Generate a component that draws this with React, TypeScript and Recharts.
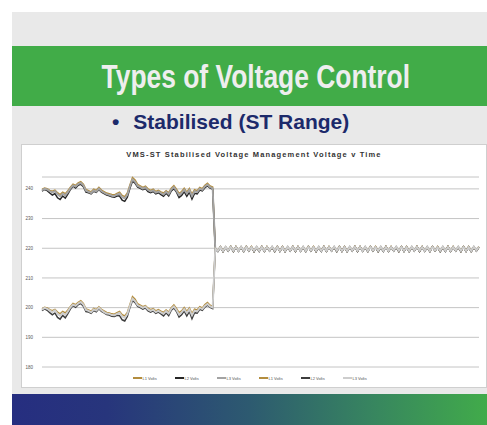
import { LineChart, Line, XAxis, YAxis, CartesianGrid, Legend } from "recharts";

// Pre-step readings (high group ~240 V, low group ~200 V)
const HIGH_L1 = [239.8,240.3,240.1,239.5,239.2,239.6,238.7,238.1,238.9,238.4,239.4,240.6,241.6,241.2,242,242.4,241.6,239.8,239.4,239,239.9,239.5,240.5,239.6,239.1,238.6,238.4,238.1,238,238.5,238.9,237.8,237.4,238.6,241.3,243.8,243,241.5,241,240.5,240.9,240,239.5,239.9,239.1,239.5,239,238.6,239.4,238.7,240.2,241.1,239.9,238.5,239.1,240.2,238.9,240.1,238.2,239.7,239.4,240.5,240.1,241.2,241.9,241,240.6];
const HIGH_L2 = [239.2,239.8,239.4,238.6,237.9,238.4,237,236.4,237.6,236.9,238.2,239.8,240.9,240.3,241.2,241.6,240.7,238.9,238.7,238.3,239.2,238.8,239.8,238.9,238.4,237.9,237.7,237.3,237.2,237.6,237.6,236.2,235.8,237.2,240.2,242.6,241.9,240.6,240.2,239.7,240.1,239.1,238.7,239.1,238.3,238.7,238.1,237.5,238.5,237.6,239.3,240.1,238.9,237.1,237.8,239.1,237.5,238.9,236.6,238.5,238.3,239.6,239.3,240.4,241,240.3,239.9];
const HIGH_L3 = [239.5,240,239.8,239.2,238.8,239.2,238.2,237.5,238.4,237.8,238.9,240.2,241.2,240.8,241.6,242,241.2,239.4,239,238.6,239.5,239.1,240.1,239.2,238.7,238.2,238,237.7,237.6,238.1,238.4,237.2,236.8,238,240.8,243.2,242.4,241,240.6,240.1,240.5,239.6,239.1,239.5,238.7,239.1,238.6,238.1,239,238.2,239.8,240.6,239.4,237.9,238.6,239.7,238.4,239.6,237.6,239.2,238.9,240.1,239.7,240.8,241.4,240.6,240.2];

const LOW_L1 = [199.6,200.1,199.9,199.3,199,199.4,198.5,197.9,198.7,198.2,199.2,200.4,201.4,201,201.8,202.3,201.4,199.6,199.2,198.8,199.7,199.3,200.3,199.4,198.9,198.4,198.2,197.9,197.8,198.3,198.7,197.6,197.2,198.4,201.1,203.7,202.8,201.3,200.8,200.3,200.7,199.8,199.3,199.7,198.9,199.3,198.8,198.4,199.2,198.5,200,200.9,199.7,198.3,198.9,200,198.7,199.9,198,199.5,199.2,200.3,199.9,201,201.7,200.8,200.4];
const LOW_L2 = [199,199.6,199.1,198.3,197.6,198.2,196.7,196.1,197.4,196.6,198,199.6,200.7,200.1,201,201.4,200.5,198.7,198.5,198.1,199,198.6,199.6,198.7,198.2,197.7,197.5,197.1,197,197.4,197.3,195.9,195.5,197,200,202.4,201.7,200.4,200,199.5,199.9,198.9,198.5,198.9,198.1,198.5,197.9,197.2,198.3,197.3,199.1,199.9,198.7,196.8,197.6,198.9,197.2,198.7,196.3,198.3,198.1,199.4,199.1,200.2,200.8,200.1,199.7];
const LOW_L3 = [199.3,199.9,199.6,199,198.5,199.1,197.9,197.3,198.2,197.5,198.7,200.1,201,200.6,201.4,201.9,201,199.2,198.9,198.4,199.4,199,199.9,199.1,198.5,198,197.9,197.5,197.4,197.9,198.2,197,196.6,197.8,200.6,203,202.2,200.8,200.4,199.9,200.3,199.4,198.9,199.3,198.5,198.9,198.4,197.9,198.8,198,199.6,200.4,199.2,197.7,198.4,199.5,198.2,199.4,197.4,199,198.7,199.9,199.5,200.6,201.2,200.4,200];

// Stabilised output after the unit kicks in (~220 V)
const STAB_L1 = [
  219.9,219.1,220.5,219.0,220.4,219.2,220.6,219.0,220.5,219.1,
  220.4,219.0,220.6,219.2,220.5,219.0,220.4,219.1,220.6,219.0,
  220.5,219.2,220.4,219.0,220.6,219.1,220.5,219.0,220.4,219.2,
  220.6,219.0,220.5,219.1,220.4,219.0,220.6,219.2,220.5,219.0,
  220.4,219.1,220.6,219.0,220.5,219.2,220.4,219.0,220.6,219.1,
  220.5,219.0,220.4,219.2,220.6,219.0,220.5,219.1,220.4,219.0,
  220.6,219.2,220.5,219.0,220.4,219.1,220.6,219.0,220.5,219.2,
  220.4,219.0,220.6,219.1,220.5,219.0,220.4,219.2,220.6,219.0,
  220.5,219.1,220.4,219.0,220.6,219.2,220.5,219.0,220.4,219.1,
  220.6,219.0,220.5,219.2,220.4,219.0,220.6,219.1,220.5,219.0,
  220.4,219.2,220.5,
];
const STAB_L2 = [
  219.8,219.0,220.4,218.9,220.3,219.1,220.5,218.9,220.4,219.0,
  220.3,218.9,220.5,219.1,220.4,218.9,220.3,219.0,220.5,218.9,
  220.4,219.1,220.3,218.9,220.5,219.0,220.4,218.9,220.3,219.1,
  220.5,218.9,220.4,219.0,220.3,218.9,220.5,219.1,220.4,218.9,
  220.3,219.0,220.5,218.9,220.4,219.1,220.3,218.9,220.5,219.0,
  220.4,218.9,220.3,219.1,220.5,218.9,220.4,219.0,220.3,218.9,
  220.5,219.1,220.4,218.9,220.3,219.0,220.5,218.9,220.4,219.1,
  220.3,218.9,220.5,219.0,220.4,218.9,220.3,219.1,220.5,218.9,
  220.4,219.0,220.3,218.9,220.5,219.1,220.4,218.9,220.3,219.0,
  220.5,218.9,220.4,219.1,220.3,218.9,220.5,219.0,220.4,218.9,
  220.3,219.1,220.4,
];
const STAB_L3 = [
  219.9,219.1,220.5,219.0,220.4,219.2,220.5,219.1,220.4,219.1,
  220.5,219.0,220.5,219.2,220.4,219.1,220.5,219.1,220.5,219.0,
  220.4,219.2,220.5,219.1,220.5,219.1,220.4,219.0,220.5,219.2,
  220.5,219.1,220.4,219.1,220.5,219.0,220.5,219.2,220.4,219.1,
  220.5,219.1,220.5,219.0,220.4,219.2,220.5,219.1,220.5,219.1,
  220.4,219.0,220.5,219.2,220.5,219.1,220.4,219.1,220.5,219.0,
  220.5,219.2,220.4,219.1,220.5,219.1,220.5,219.0,220.4,219.2,
  220.5,219.1,220.5,219.1,220.4,219.0,220.5,219.2,220.5,219.1,
  220.4,219.1,220.5,219.0,220.5,219.2,220.4,219.1,220.5,219.1,
  220.5,219.0,220.4,219.2,220.5,219.1,220.5,219.1,220.4,219.0,
  220.5,219.2,220.5,
];

const Y_TICKS = [180, 190, 200, 210, 220, 230, 240];

const SERIES = [
  { key: "a1", name: "L1 Volts", color: "#b38d3e", width: 1.5, values: [...HIGH_L1, ...STAB_L1] },
  { key: "a2", name: "L2 Volts", color: "#262626", width: 1.5, values: [...HIGH_L2, ...STAB_L2] },
  { key: "a3", name: "L3 Volts", color: "#a3a3a3", width: 1.9, values: [...HIGH_L3, ...STAB_L3] },
  { key: "b1", name: "L1 Volts", color: "#b38d3e", width: 1.5, values: [...LOW_L1, ...STAB_L1] },
  { key: "b2", name: "L2 Volts", color: "#3d3d3d", width: 1.5, values: [...LOW_L2, ...STAB_L2] },
  { key: "b3", name: "L3 Volts", color: "#cdcdcd", width: 1.9, values: [...LOW_L3, ...STAB_L3] },
];

const data = SERIES[0].values.map((_, i) => {
  const row: Record<string, number> = { t: i };
  SERIES.forEach((s) => (row[s.key] = s.values[i]));
  return row;
});

function LegendRow() {
  return (
    <div style={{ display: "flex", justifyContent: "center", height: 8, alignItems: "center", paddingLeft: 10 }}>
      {SERIES.map((s) => (
        <div key={s.key} style={{ display: "flex", alignItems: "center", width: 42 }}>
          <span style={{ width: 9, height: 1.5, background: s.color, display: "inline-block" }} />
          <span style={{ fontSize: 4, color: "#555", marginLeft: 1, fontFamily: "Liberation Sans, Arial, sans-serif" }}>{s.name}</span>
        </div>
      ))}
    </div>
  );
}

export default function App() {
  return (
    <div style={{ position: "absolute", left: 0, top: 0, width: 487, height: 425, background: "#fff", overflow: "hidden" }}>
      <div style={{ position: "absolute", left: 12, top: 12, width: 475, height: 413, background: "#e9e9e9" }} />
      {/* green title band */}
      <div
        style={{
          position: "absolute", left: 12, top: 46, width: 475, height: 60, background: "#41ac48",
          display: "flex", alignItems: "center", justifyContent: "center",
        }}
      >
        <span
          style={{
            fontFamily: "'Liberation Sans', Arial, sans-serif", display: "inline-block",
            fontWeight: 700, fontSize: 33, color: "#eeeeee", marginLeft: 12, marginTop: 1,
            transform: "scaleX(0.8)", whiteSpace: "nowrap",
          }}
        >
          Types of Voltage Control
        </span>
      </div>
      <div
        style={{
          position: "absolute", left: 112, top: 110, fontFamily: "'Liberation Sans', Arial, sans-serif",
          fontWeight: 700, fontSize: 21, color: "#1c2a6b", whiteSpace: "nowrap",
        }}
      >
        <span style={{ marginRight: 14 }}>•</span>Stabilised (ST Range)
      </div>

      {/* chart box */}
      <div style={{ position: "absolute", left: 22, top: 145, width: 464, height: 242, background: "#fff", boxShadow: "0 0 0 1px #cfcfcf" }}>
        <div
          style={{
            position: "absolute", left: 0, top: 5, width: 464, textAlign: "center",
            fontFamily: "'Liberation Sans', Arial, sans-serif", fontWeight: 700, fontSize: 7.5,
            letterSpacing: 1.15, color: "#333",
          }}
        >
          VMS-ST Stabilised Voltage Management Voltage v Time
        </div>
        <LineChart width={464} height={242} data={data} margin={{ top: 32, right: 7, left: 6, bottom: 12 }}>
          <CartesianGrid vertical={false} stroke="#c4c4c4" strokeWidth={1} />
          <XAxis dataKey="t" hide />
          <YAxis
            domain={[180, 244]}
            ticks={Y_TICKS}
            width={14}
            axisLine={false}
            tickLine={false}
            tickMargin={3}
            tick={{ fontSize: 4.5, fill: "#555", fontFamily: "Liberation Sans, Arial, sans-serif" }}
          />
          <Legend verticalAlign="bottom" content={<LegendRow />} wrapperStyle={{ bottom: 5 }} />
          {SERIES.map((s) => (
            <Line
              key={s.key}
              dataKey={s.key}
              name={s.name}
              type="linear"
              stroke={s.color}
              strokeWidth={s.width}
              dot={false}
              isAnimationActive={false}
            />
          ))}
        </LineChart>
      </div>

      {/* footer gradient band */}
      <div
        style={{
          position: "absolute", left: 12, top: 394, width: 475, height: 31,
          background: "linear-gradient(90deg, #262e80 0%, #27357c 20%, #2d5a70 50%, #378460 75%, #41ab4a 100%)",
        }}
      />
    </div>
  );
}
